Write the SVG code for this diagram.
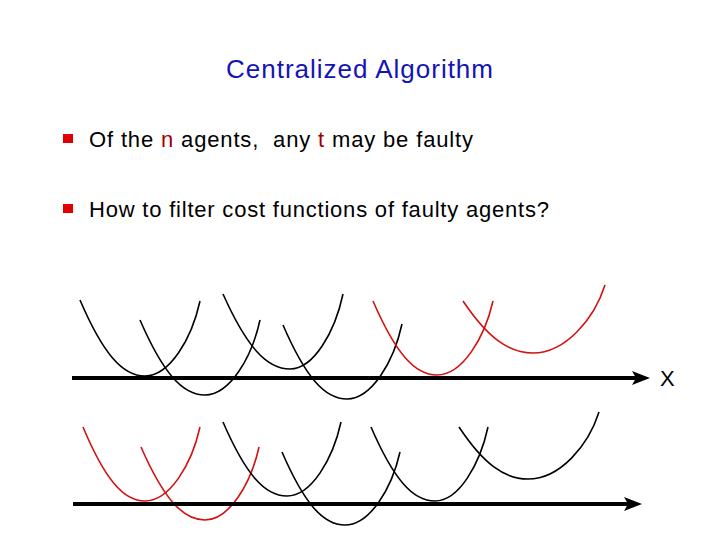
<svg xmlns="http://www.w3.org/2000/svg" width="720" height="540" viewBox="0 0 720 540">
<style>
text{font-family:"Liberation Sans",Arial,sans-serif}
.t{font-size:26px;fill:#1414b4}
.b{font-size:22px;fill:#000}
.hl{fill:#a00000}
.sq{fill:#e00000}
.c{fill:none;stroke:#000;stroke-width:1.6}
.r{fill:none;stroke:#d41010;stroke-width:1.6}
.ax{stroke:#000;stroke-width:4}
</style>
<rect width="720" height="540" fill="#fff"/>
<g id="title"><text class="t" x="226" y="78" textLength="267" lengthAdjust="spacing">Centralized Algorithm</text></g>
<g id="bullet1"><rect class="sq" x="63" y="134" width="10" height="9"/><text class="b" x="89" y="147" textLength="384" lengthAdjust="spacing" xml:space="preserve">Of the <tspan class="hl">n</tspan> agents,  any <tspan class="hl">t</tspan> may be faulty</text></g>
<g id="bullet2"><rect class="sq" x="63" y="204" width="10" height="9"/><text class="b" x="89" y="217" textLength="460" lengthAdjust="spacing">How to filter cost functions of faulty agents?</text></g>
<g id="top-row">
<path class="c" d="M80,300 C102.8,353.2 122.3,376 145,376 C169.8,376 191.8,338.5 200,301"/>
<path class="c" d="M140,320 C162.8,372.5 182.3,395 205,395 C229.8,395 251.8,357.5 260,320"/>
<path class="c" d="M223,294 C246.5,346.5 266.5,369 290,369 C313.9,369 335,331.5 343,294"/>
<path class="c" d="M283,325 C305.4,376.8 324.6,399 347,399 C371.8,399 393.8,361.5 402,324"/>
<path class="r" d="M373,301 C395.4,352.8 414.6,375 437,375 C462.2,375 484.6,338 493,301"/>
<path class="r" d="M463,301 C487.5,337.4 508.5,353 533,353 C565.4,353 594.2,319 605,285"/>
</g>
<g id="bottom-row">
<path class="r" d="M83,427 C104.7,478.8 123.3,501 145,501 C169.8,501 191.8,464 200,427"/>
<path class="r" d="M141,447 C163.4,498.1 182.6,520 205,520 C229.3,520 250.9,483.5 259,447"/>
<path class="c" d="M223,422 C245.4,473.8 264.6,496 287,496 C311.3,496 332.9,459 341,422"/>
<path class="c" d="M282,452 C304.1,503.1 323,525 345,525 C369.8,525 391.8,488.5 400,452"/>
<path class="c" d="M371,427 C393.4,478.8 412.6,501 435,501 C458.9,501 480,464 488,427"/>
<path class="c" d="M459,427 C483.2,463.4 503.9,479 528,479 C560,479 588.4,445.5 599,412"/>
</g>
<g id="connectors">
<line class="ax" x1="72" y1="378" x2="636" y2="378"/>
<polygon points="632,371 650,378 632,385 636,378"/>
<line class="ax" x1="73" y1="504" x2="628" y2="504"/>
<polygon points="624,497 642,504 624,511 628,504"/>
</g>
<g id="x-label"><text class="b" x="660" y="386">X</text></g>
</svg>
